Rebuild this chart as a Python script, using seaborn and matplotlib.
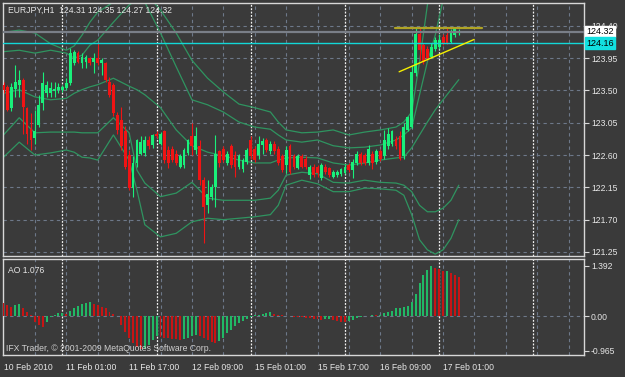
import numpy as np
import pandas as pd
import matplotlib
matplotlib.use("Agg")
import matplotlib.pyplot as plt
import seaborn as sns

# ------------------------------------------------------------------
# Data (bar index 0 = 10 Feb 2010 09:00)
# ------------------------------------------------------------------
opens = [123.58, 123.55, 123.25, 123.52, 123.57, 123.64, 123.25, 122.96, 122.84, 123.02,
         123.32, 123.46, 123.46, 123.49, 123.50, 123.51, 123.53, 123.60, 123.88, 124.02,
         123.88, 123.90, 123.95, 123.90, 123.95, 123.88, 123.88, 123.62, 123.58, 123.16,
         123.09, 122.93, 122.60, 122.14, 122.49, 122.62, 122.63, 122.81, 122.74, 122.90,
         122.76, 122.93, 122.67, 122.69, 122.62, 122.44, 122.46, 122.63, 122.86, 122.67,
         122.72, 122.25, 121.90, 122.02, 122.16, 122.65, 122.69, 122.49, 122.72, 122.60,
         122.44, 122.40, 122.51, 122.81, 122.69, 122.60, 122.74, 122.81, 122.65, 122.76,
         122.69, 122.58, 122.46, 122.72, 122.58, 122.42, 122.58, 122.55, 122.32, 122.44,
         122.44, 122.28, 122.44, 122.42, 122.30, 122.32, 122.33, 122.35, 122.46, 122.39,
         122.49, 122.62, 122.60, 122.49, 122.62, 122.51, 122.65, 122.58, 122.72, 122.76,
         122.83, 122.86, 122.58, 122.95, 122.99, 123.74, 124.29, 124.13, 124.08, 123.97,
         124.08, 124.10, 124.25, 124.27, 124.18, 124.27, 124.31]
highs = [123.62, 123.57, 123.60, 123.85, 123.78, 123.67, 123.27, 123.18, 123.23, 123.44,
         123.76, 123.63, 123.62, 123.62, 123.60, 123.58, 123.67, 124.09, 124.06, 124.05,
         124.02, 124.00, 123.97, 124.02, 124.16, 123.95, 123.90, 123.69, 123.60, 123.20,
         123.27, 123.00, 122.67, 122.58, 122.83, 122.86, 122.86, 122.86, 122.90, 122.93,
         122.92, 122.95, 122.72, 122.72, 122.67, 122.62, 122.70, 122.83, 123.05, 122.99,
         122.81, 122.30, 122.25, 122.20, 122.88, 122.67, 122.72, 122.65, 122.76, 122.65,
         122.62, 122.56, 122.70, 122.86, 122.72, 122.86, 122.84, 122.84, 122.80, 122.79,
         122.72, 122.62, 122.72, 122.75, 122.62, 122.62, 122.61, 122.58, 122.46, 122.47,
         122.46, 122.49, 122.47, 122.44, 122.39, 122.39, 122.42, 122.47, 122.49, 122.55,
         122.65, 122.64, 122.63, 122.74, 122.65, 122.69, 122.68, 122.95, 122.97, 122.95,
         122.86, 122.93, 123.05, 123.15, 123.85, 124.39, 124.39, 124.16, 124.12, 124.16,
         124.24, 124.29, 124.28, 124.39, 124.36, 124.37, 124.35]
lows = [123.46, 123.21, 123.22, 123.41, 123.41, 122.90, 122.76, 122.67, 122.76, 122.99,
        123.23, 123.41, 123.41, 123.41, 123.47, 123.48, 123.51, 123.58, 123.85, 123.88,
        123.81, 123.81, 123.86, 123.74, 123.85, 123.72, 123.62, 123.41, 123.15, 122.90,
        122.67, 122.40, 122.11, 122.02, 122.44, 122.60, 122.58, 122.69, 122.70, 122.84,
        122.74, 122.49, 122.42, 122.50, 122.46, 122.42, 122.42, 122.60, 122.60, 122.62,
        122.18, 121.37, 121.79, 121.98, 121.88, 122.44, 122.50, 122.46, 122.42, 122.30,
        122.40, 122.36, 122.48, 122.55, 122.50, 122.55, 122.62, 122.64, 122.62, 122.62,
        122.46, 122.36, 122.35, 122.34, 122.41, 122.40, 122.42, 122.40, 122.26, 122.30,
        122.30, 122.25, 122.34, 122.30, 122.28, 122.30, 122.31, 122.33, 122.36, 122.28,
        122.46, 122.46, 122.46, 122.46, 122.40, 122.48, 122.52, 122.55, 122.69, 122.72,
        122.69, 122.53, 122.55, 122.93, 122.97, 123.70, 123.92, 123.87, 123.92, 123.95,
        124.05, 124.08, 124.13, 124.14, 124.16, 124.25, 124.27]
closes = [123.50, 123.23, 123.55, 123.62, 123.64, 123.27, 122.90, 122.81, 122.93, 123.30,
          123.60, 123.57, 123.53, 123.52, 123.55, 123.55, 123.60, 124.02, 124.04, 123.90,
          123.97, 123.97, 123.88, 123.95, 123.88, 123.92, 123.65, 123.44, 123.18, 122.95,
          122.72, 122.44, 122.14, 122.49, 122.81, 122.78, 122.81, 122.72, 122.88, 122.86,
          122.90, 122.53, 122.49, 122.53, 122.49, 122.58, 122.67, 122.81, 122.72, 122.86,
          122.25, 121.88, 122.06, 122.16, 122.62, 122.49, 122.53, 122.62, 122.46, 122.44,
          122.58, 122.53, 122.67, 122.58, 122.53, 122.76, 122.79, 122.67, 122.76, 122.65,
          122.49, 122.39, 122.67, 122.37, 122.44, 122.58, 122.44, 122.44, 122.44, 122.32,
          122.35, 122.46, 122.37, 122.32, 122.37, 122.37, 122.40, 122.44, 122.39, 122.51,
          122.62, 122.49, 122.49, 122.69, 122.49, 122.65, 122.55, 122.81, 122.90, 122.93,
          122.72, 122.55, 122.99, 123.13, 123.76, 124.29, 124.06, 123.90, 123.95, 124.11,
          124.20, 124.20, 124.16, 124.16, 124.32, 124.35, 124.32]

# Awesome Oscillator histogram, one value per bar
ao_values = [0.35, 0.30, 0.26, 0.30, 0.33, 0.21, 0.12, 0.03, -0.16, -0.25,
             -0.30, -0.16, -0.04, 0.03, 0.07, 0.08, 0.06, 0.14, 0.22, 0.27,
             0.32, 0.37, 0.38, 0.33, 0.30, 0.26, 0.21, 0.12, 0.05, -0.01,
             -0.25, -0.43, -0.62, -0.76, -0.85, -0.92, -0.90, -0.80, -0.67, -0.55,
             -0.57, -0.60, -0.62, -0.63, -0.64, -0.66, -0.64, -0.60, -0.55, -0.52,
             -0.55, -0.60, -0.66, -0.71, -0.74, -0.70, -0.60, -0.48, -0.39, -0.27,
             -0.19, -0.14, -0.07, -0.02, 0.03, 0.04, 0.06, 0.08, 0.10, 0.06,
             0.04, 0.02, 0.01, -0.01, -0.02, -0.03, -0.04, -0.05, -0.06, -0.07,
             -0.08, -0.10, -0.09, -0.08, -0.11, -0.14, -0.16, -0.17, -0.15, -0.10,
             -0.06, -0.03, -0.01, 0.01, 0.03, 0.02, 0.03, 0.07, 0.10, 0.14,
             0.21, 0.22, 0.24, 0.29, 0.40, 0.60, 0.91, 1.14, 1.27, 1.392,
             1.34, 1.29, 1.24, 1.26, 1.19, 1.13, 1.076]

# band lines (two Bollinger sets), sampled along the chart
band_bars = [0, 4, 8, 12, 16, 18, 20, 22, 24, 28, 32, 34, 36, 40, 44, 48, 52, 56, 60,
             64, 68, 70, 72, 76, 80, 84, 88, 92, 96, 100, 102, 104, 106, 108, 110, 112,
             114, 116]
band_upper_outer = [124.31, 124.34, 124.30, 124.15, 124.06, 124.12, 124.27, 124.45, 124.59,
                    124.73, 124.90, 124.93, 124.87, 124.62, 124.30, 123.92, 123.67, 123.48,
                    123.31, 123.26, 123.20, 123.06, 122.95, 122.91, 122.92, 122.95, 122.88,
                    122.92, 122.95, 122.99, 123.06, 123.20, 123.90, 124.69, 125.39, 126.01,
                    126.43, 126.71]
band_upper_inner = [124.04, 124.06, 124.02, 124.06, 124.02, 123.95, 123.99, 124.13, 124.20,
                    124.45, 124.69, 124.76, 124.73, 124.30, 123.83, 123.37, 123.30, 123.20,
                    123.06, 122.99, 122.96, 122.88, 122.81, 122.78, 122.81, 122.73, 122.70,
                    122.71, 122.74, 122.81, 122.88, 122.98, 123.44, 123.90, 124.27, 124.76,
                    125.18, 125.53]
band_middle = [123.46, 123.51, 123.41, 123.37, 123.39, 123.46, 123.51, 123.55, 123.58,
               123.67, 123.56, 123.51, 123.44, 123.26, 122.95, 122.73, 122.64, 122.59,
               122.53, 122.49, 122.49, 122.53, 122.56, 122.57, 122.56, 122.49, 122.46,
               122.49, 122.53, 122.56, 122.57, 122.70, 122.88, 123.06, 123.23, 123.37,
               123.51, 123.65]
band_lower_inner = [122.88, 123.12, 122.91, 122.92, 122.92, 122.92, 122.91, 122.91, 122.91,
                    123.12, 122.91, 122.39, 122.21, 122.02, 122.07, 122.22, 122.00, 121.97,
                    121.97, 121.97, 122.00, 122.11, 122.32, 122.36, 122.34, 122.22, 122.21,
                    122.25, 122.22, 122.21, 122.18, 122.09, 121.90, 121.81, 121.81, 121.86,
                    121.97, 122.18]
band_lower_outer = [122.57, 122.78, 122.60, 122.63, 122.67, 122.64, 122.57, 122.56, 122.53,
                    122.88, 122.53, 122.11, 121.63, 121.46, 121.51, 121.67, 121.72, 121.70,
                    121.72, 121.74, 121.77, 121.90, 122.18, 122.25, 122.20, 122.09, 122.09,
                    122.14, 122.13, 122.11, 122.04, 121.77, 121.42, 121.28, 121.22, 121.28,
                    121.44, 121.70]

# chart objects
bid_price = 124.32
hline_price = 124.16
resistance_bars = [99.7, 121.9]
resistance_prices = [124.37, 124.37]
trend_bars = [100.8, 119.9]
trend_prices = [123.76, 124.21]

price_ticks = [124.40, 123.95, 123.50, 123.05, 122.60, 122.15, 121.70, 121.25]
ao_ticks = [1.392, 0.0, -0.965]
ao_tick_labels = ["1.392", "0.00", "-0.965"]
date_bars = [0, 16, 32, 48, 64, 80, 96, 112]
date_labels = ["10 Feb 2010", "11 Feb 01:00", "11 Feb 17:00", "12 Feb 09:00",
               "15 Feb 01:00", "15 Feb 17:00", "16 Feb 09:00", "17 Feb 01:00"]
day_separators = [15, 39, 63, 87, 111, 135]
title_text = "EURJPY,H1  124.31 124.35 124.27 124.32"
ao_title = "AO 1.076"
copyright_text = "IFX Trader, \u00a9 2001-2009 MetaQuotes Software Corp."

# ------------------------------------------------------------------
# Style
# ------------------------------------------------------------------
BG = "#3a3a3a"
FRAME = "#d8d8d8"
GRID = "#6d7889"
BULL = "#19f07a"
BEAR = "#f01414"
BAND = "#2f9460"
TXT = "#e6e6e6"

sns.set_style("dark", rc={"axes.facecolor": BG, "figure.facecolor": BG})
plt.rcParams["font.family"] = ["Liberation Sans", "DejaVu Sans"]
FS = 6.2

W, H = 625, 377


def px_box(left, top, right, bottom):
    return [left / W, 1 - bottom / H, (right - left) / W, (bottom - top) / H]


fig = plt.figure(figsize=(W / 100, H / 100), dpi=100)
fig.patch.set_facecolor(BG)
ax = fig.add_axes(px_box(3, 3, 584, 256))
ax_ao = fig.add_axes(px_box(3, 259, 584, 355))

bars = np.arange(len(closes))
o = np.array(opens)
c = np.array(closes)
up = c >= o
candle_colors = np.where(up, BULL, BEAR)

x_min, x_max = -0.13, 147.9
for a in (ax, ax_ao):
    a.set_facecolor(BG)
    a.set_xlim(x_min, x_max)
    for s in a.spines.values():
        s.set_color(FRAME)
        s.set_linewidth(1.0)
    a.grid(False)
    # gray dashed grid every 8 bars
    for gb in range(8, 148, 8):
        a.axvline(gb, color=GRID, lw=0.8, dashes=(3, 3), zorder=1)
    # day separators
    for sb in day_separators:
        a.axvline(sb, color="#f2f2f2", lw=0.9, dashes=(1.5, 1.2), zorder=1.2)

# ---------------- main price panel ----------------
ax.set_ylim(121.194, 124.718)
for p in price_ticks:
    ax.axhline(p, color=GRID, lw=0.8, dashes=(3, 3), zorder=1)

bands = pd.DataFrame({
    "bar": band_bars * 5,
    "price": band_upper_outer + band_upper_inner + band_middle + band_lower_inner + band_lower_outer,
    "line": sum([[name] * len(band_bars) for name in
                 ["uo", "ui", "mid", "li", "lo"]], []),
})
sns.lineplot(data=bands, x="bar", y="price", units="line", estimator=None,
             color=BAND, lw=0.9, ax=ax, legend=False, zorder=2)

ax.vlines(bars, lows, highs, colors=candle_colors, lw=0.8, zorder=3)
body_low = np.minimum(o, c)
body_h = np.maximum(np.abs(c - o), 0.015)
ax.bar(bars, body_h, bottom=body_low, width=0.72, color=candle_colors,
       linewidth=0, zorder=3.5)

ax.axhline(bid_price, color="#7a7f88", lw=1.6, zorder=4)
ax.axhline(hline_price, color="#12d8d8", lw=1.0, zorder=4)
ax.plot(resistance_bars, resistance_prices, color="#b0a425", lw=1.6, zorder=5)
ax.plot(trend_bars, trend_prices, color="#f5f000", lw=1.0, zorder=5)

ax.set_xlabel("")
ax.set_ylabel("")
ax.set_xticks([])
ax.yaxis.tick_right()
ax.set_yticks(price_ticks)
ax.set_yticklabels([f"{p:.2f}" for p in price_ticks])
ax.tick_params(axis="y", colors=FRAME, labelcolor=TXT, labelsize=FS,
               length=3.5, width=0.8, pad=1.5, direction="out")

ytr = ax.get_yaxis_transform()
ax.text(1.004, bid_price, f"{bid_price:.2f}", transform=ytr, ha="left", va="center",
        fontsize=FS + 0.3, color="black", zorder=10, clip_on=False,
        bbox=dict(boxstyle="square,pad=0.15", fc="white", ec="white"))
ax.text(1.004, hline_price, f"{hline_price:.2f}", transform=ytr, ha="left", va="center",
        fontsize=FS + 0.3, color="black", zorder=10, clip_on=False,
        bbox=dict(boxstyle="square,pad=0.15", fc="#12e0e0", ec="#12e0e0"))

ax.text(0.008, 0.988, title_text, transform=ax.transAxes, ha="left", va="top",
        fontsize=FS, color=TXT, zorder=10)

# ---------------- AO panel ----------------
ax_ao.set_ylim(-1.08, 1.579)
ax_ao.axhline(0, color=GRID, lw=0.8, dashes=(3, 3), zorder=1)
ao = np.array(ao_values)
ao_up = np.concatenate([[False], np.diff(ao) > 0])
ao_colors = np.where(ao_up, "#21b865", "#c81414")
ax_ao.bar(bars, ao, width=0.5, color=ao_colors, linewidth=0, zorder=3)

ax_ao.yaxis.tick_right()
ax_ao.set_yticks(ao_ticks)
ax_ao.set_yticklabels(ao_tick_labels)
ax_ao.tick_params(axis="y", colors=FRAME, labelcolor=TXT, labelsize=FS,
                  length=3.5, width=0.8, pad=1.5, direction="out")
ax_ao.set_xticks(date_bars)
ax_ao.set_xticklabels(date_labels, ha="left")
ax_ao.tick_params(axis="x", colors=FRAME, labelcolor=TXT, labelsize=FS,
                  length=3.5, width=0.8, pad=2, direction="out")
ax_ao.set_xlabel("")
ax_ao.set_ylabel("")

ax_ao.text(0.008, 0.93, ao_title, transform=ax_ao.transAxes, ha="left", va="top",
           fontsize=FS, color=TXT, zorder=10)
ax_ao.text(0.005, 0.02, copyright_text, transform=ax_ao.transAxes, ha="left",
           va="bottom", fontsize=FS, color="#d0d0d0", zorder=10)

fig.savefig("out.png", dpi=100, facecolor=BG)
